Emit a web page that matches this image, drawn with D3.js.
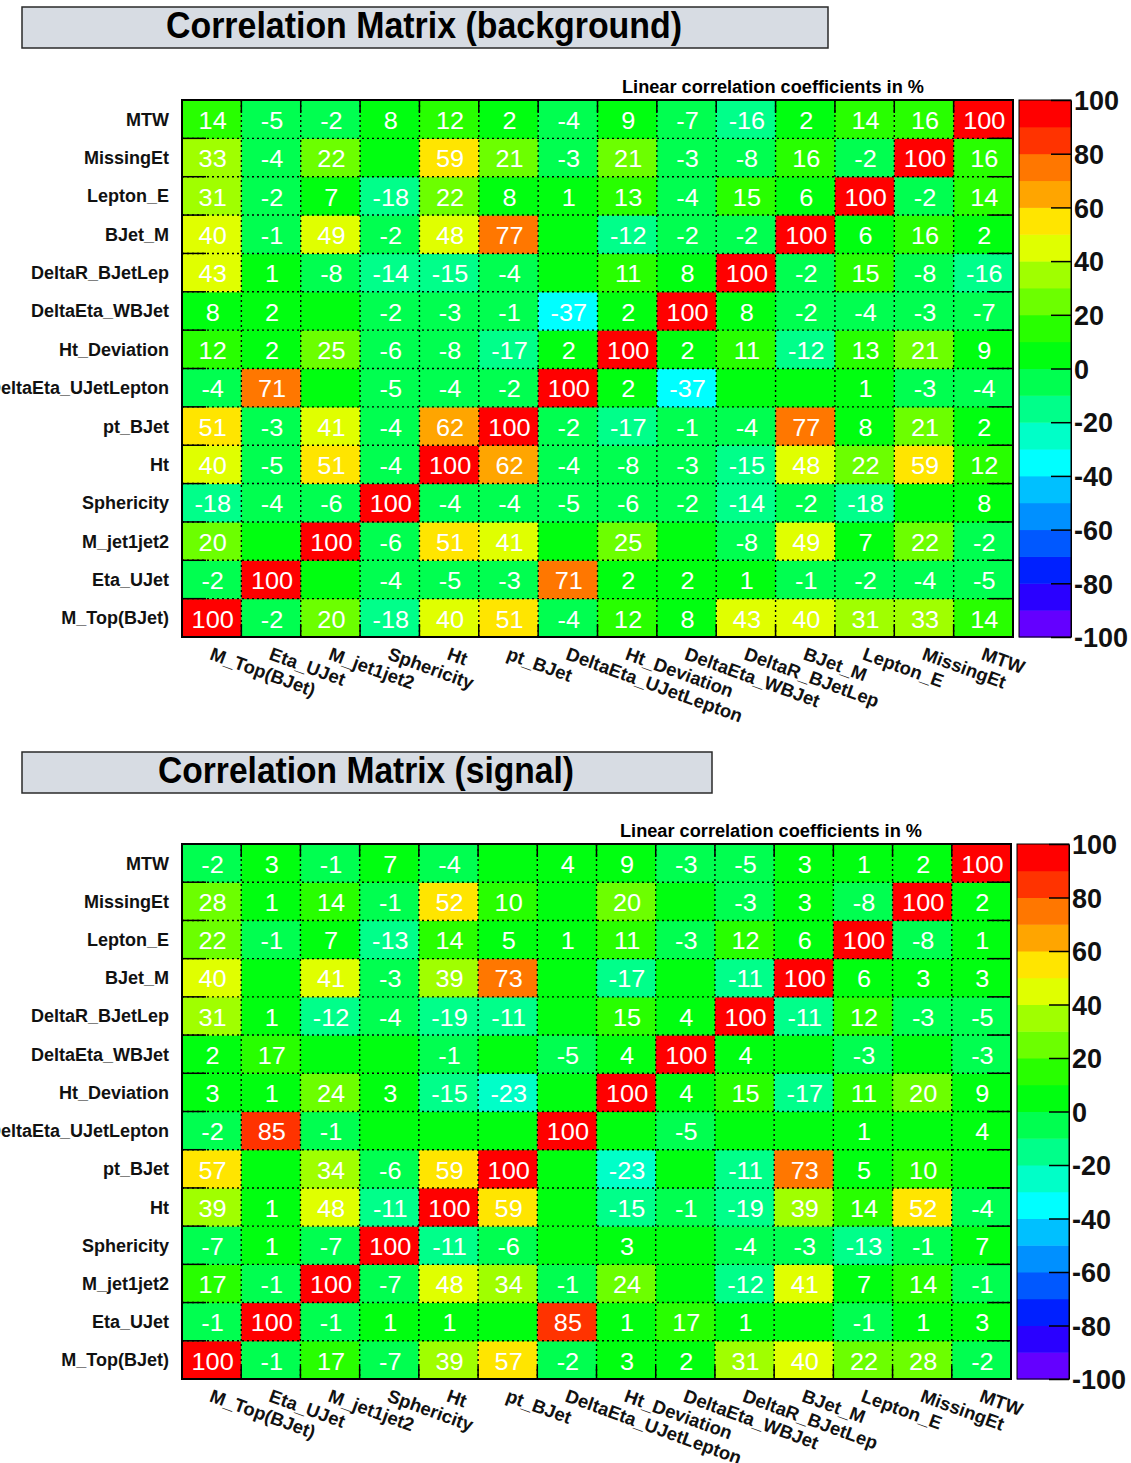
<!DOCTYPE html>
<html>
<head>
<meta charset="utf-8">
<script src="https://cdn.jsdelivr.net/npm/d3@7/dist/d3.min.js"></script>
<style>
  html, body { margin: 0; padding: 0; background: #fff; }
  svg { display: block; }
  text { font-family: "Liberation Sans", Arial, Helvetica, sans-serif; }
</style>
</head>
<body>
<div id="chart"></div>
<script>
// ---------------- DATA ----------------
const variables = ["M_Top(BJet)", "Eta_UJet", "M_jet1jet2", "Sphericity", "Ht", "pt_BJet",
  "DeltaEta_UJetLepton", "Ht_Deviation", "DeltaEta_WBJet", "DeltaR_BJetLep", "BJet_M",
  "Lepton_E", "MissingEt", "MTW"];

// rows in variable order (row 0 = M_Top(BJet), bottom row of the picture); 0 cells are not labelled
const backgroundMatrix = [
  [100, -2, 20, -18, 40, 51, -4, 12, 8, 43, 40, 31, 33, 14],
  [-2, 100, 0, -4, -5, -3, 71, 2, 2, 1, -1, -2, -4, -5],
  [20, 0, 100, -6, 51, 41, 0, 25, 0, -8, 49, 7, 22, -2],
  [-18, -4, -6, 100, -4, -4, -5, -6, -2, -14, -2, -18, 0, 8],
  [40, -5, 51, -4, 100, 62, -4, -8, -3, -15, 48, 22, 59, 12],
  [51, -3, 41, -4, 62, 100, -2, -17, -1, -4, 77, 8, 21, 2],
  [-4, 71, 0, -5, -4, -2, 100, 2, -37, 0, 0, 1, -3, -4],
  [12, 2, 25, -6, -8, -17, 2, 100, 2, 11, -12, 13, 21, 9],
  [8, 2, 0, -2, -3, -1, -37, 2, 100, 8, -2, -4, -3, -7],
  [43, 1, -8, -14, -15, -4, 0, 11, 8, 100, -2, 15, -8, -16],
  [40, -1, 49, -2, 48, 77, 0, -12, -2, -2, 100, 6, 16, 2],
  [31, -2, 7, -18, 22, 8, 1, 13, -4, 15, 6, 100, -2, 14],
  [33, -4, 22, 0, 59, 21, -3, 21, -3, -8, 16, -2, 100, 16],
  [14, -5, -2, 8, 12, 2, -4, 9, -7, -16, 2, 14, 16, 100]
];

const signalMatrix = [
  [100, -1, 17, -7, 39, 57, -2, 3, 2, 31, 40, 22, 28, -2],
  [-1, 100, -1, 1, 1, 0, 85, 1, 17, 1, 0, -1, 1, 3],
  [17, -1, 100, -7, 48, 34, -1, 24, 0, -12, 41, 7, 14, -1],
  [-7, 1, -7, 100, -11, -6, 0, 3, 0, -4, -3, -13, -1, 7],
  [39, 1, 48, -11, 100, 59, 0, -15, -1, -19, 39, 14, 52, -4],
  [57, 0, 34, -6, 59, 100, 0, -23, 0, -11, 73, 5, 10, 0],
  [-2, 85, -1, 0, 0, 0, 100, 0, -5, 0, 0, 1, 0, 4],
  [3, 1, 24, 3, -15, -23, 0, 100, 4, 15, -17, 11, 20, 9],
  [2, 17, 0, 0, -1, 0, -5, 4, 100, 4, 0, -3, 0, -3],
  [31, 1, -12, -4, -19, -11, 0, 15, 4, 100, -11, 12, -3, -5],
  [40, 0, 41, -3, 39, 73, 0, -17, 0, -11, 100, 6, 3, 3],
  [22, -1, 7, -13, 14, 5, 1, 11, -3, 12, 6, 100, -8, 1],
  [28, 1, 14, -1, 52, 10, 0, 20, 0, -3, 3, -8, 100, 2],
  [-2, 3, -1, 7, -4, 0, 4, 9, -3, -5, 3, 1, 2, 100]
];

const colorbarTicks = [-100, -80, -60, -40, -20, 0, 20, 40, 60, 80, 100];
const contourLevels = [-90, -80, -70, -60, -50, -40, -30, -20, -10, 0, 10, 20, 30, 40, 50, 60, 70, 80, 90];
const subtitleText = "Linear correlation coefficients in %";

// ---------------- STYLE ----------------
const paletteColors = [
  "#6400ff", "#2a00ff", "#0020ff", "#0058ff", "#0090ff", "#00c0ff", "#00ffff", "#00ffc8",
  "#00ff8a", "#00ff50", "#00ff10", "#28ff00", "#6cff00", "#a0ff00", "#e0ff00", "#ffe500",
  "#ffa500", "#ff7700", "#ff3300", "#ff0000"
];
const color = d3.scaleThreshold().domain(contourLevels).range(paletteColors);

const W = 1131, H = 1463;
const svg = d3.select("#chart").append("svg").attr("width", W).attr("height", H);
svg.append("rect").attr("width", W).attr("height", H).attr("fill", "#fff");

const panels = [
  {
    title: "Correlation Matrix (background)", matrix: backgroundMatrix,
    box: {x: 22, y: 7, w: 806, h: 41}, titleX: 424, titleY: 38, titleLen: 516,
    subX: 622, subY: 93,
    frame: {x0: 182, x1: 1013, y0: 100, y1: 637},
    cbar: {x0: 1019, x1: 1071}
  },
  {
    title: "Correlation Matrix (signal)", matrix: signalMatrix,
    box: {x: 22, y: 752, w: 690, h: 41}, titleX: 366, titleY: 783, titleLen: 416,
    subX: 620, subY: 837,
    frame: {x0: 182, x1: 1011, y0: 844, y1: 1379},
    cbar: {x0: 1017, x1: 1069}
  }
];

panels.forEach(p => drawPanel(p));

function drawPanel(p) {
  const g = svg.append("g");
  const f = p.frame;

  // title box
  g.append("rect").attr("x", p.box.x).attr("y", p.box.y).attr("width", p.box.w).attr("height", p.box.h)
    .attr("fill", "#d7dce3").attr("stroke", "#2a2a2a").attr("stroke-width", 1.5);
  g.append("text").attr("x", p.titleX).attr("y", p.titleY).attr("text-anchor", "middle")
    .attr("font-size", 36).attr("font-weight", "bold").attr("fill", "#000")
    .attr("textLength", p.titleLen).attr("lengthAdjust", "spacingAndGlyphs")
    .text(p.title);

  // subtitle
  g.append("text").attr("x", p.subX).attr("y", p.subY).attr("font-size", 17.5)
    .attr("font-weight", "bold").attr("fill", "#000")
    .attr("textLength", 302).attr("lengthAdjust", "spacingAndGlyphs").text(subtitleText);

  const x = d3.scaleBand().domain(variables).range([f.x0, f.x1]).padding(0);
  const y = d3.scaleBand().domain(variables).range([f.y1, f.y0]).padding(0);

  const cells = [];
  p.matrix.forEach((row, i) => row.forEach((v, j) => cells.push({row: variables[i], col: variables[j], v})));

  g.append("g").selectAll("rect").data(cells).join("rect")
    .attr("x", d => x(d.col)).attr("y", d => y(d.row))
    .attr("width", x.bandwidth() + 0.5).attr("height", y.bandwidth() + 0.5)
    .attr("fill", d => color(d.v));

  // dotted grid at bin edges
  const grid = g.append("g").attr("stroke", "#000").attr("stroke-width", 1.4).attr("stroke-dasharray", "2,3");
  variables.slice(1).forEach(v => {
    grid.append("line").attr("x1", x(v)).attr("x2", x(v)).attr("y1", f.y0).attr("y2", f.y1);
    grid.append("line").attr("y1", y(v) + y.bandwidth()).attr("y2", y(v) + y.bandwidth()).attr("x1", f.x0).attr("x2", f.x1);
  });

  // cell text
  g.append("g").selectAll("text").data(cells.filter(d => d.v !== 0)).join("text")
    .attr("transform", d => `translate(${x(d.col) + x.bandwidth() / 2 + 1},${y(d.row) + y.bandwidth() / 2 + 1}) scale(1.1,1)`)
    .attr("text-anchor", "middle").attr("dy", "0.38em")
    .attr("font-size", 23).attr("fill", "#fff").text(d => d.v);

  // edge ticks
  const ticks = g.append("g").attr("stroke", "#000").attr("stroke-width", 1.5);
  variables.slice(1).forEach(v => {
    const xx = x(v), yy = y(v) + y.bandwidth();
    ticks.append("line").attr("x1", xx).attr("x2", xx).attr("y1", f.y1).attr("y2", f.y1 - 13);
    ticks.append("line").attr("x1", xx).attr("x2", xx).attr("y1", f.y0).attr("y2", f.y0 + 13);
    ticks.append("line").attr("x1", f.x0).attr("x2", f.x0 + 24).attr("y1", yy).attr("y2", yy);
    ticks.append("line").attr("x1", f.x1 - 24).attr("x2", f.x1).attr("y1", yy).attr("y2", yy);
  });

  // frame
  g.append("rect").attr("x", f.x0).attr("y", f.y0).attr("width", f.x1 - f.x0).attr("height", f.y1 - f.y0)
    .attr("fill", "none").attr("stroke", "#000").attr("stroke-width", 2);

  // y axis labels
  const yAxis = g.append("g").attr("transform", `translate(${f.x0},0)`)
    .call(d3.axisLeft(y).tickSize(0).tickPadding(13));
  yAxis.select(".domain").remove();
  yAxis.selectAll("text").attr("font-size", 18).attr("font-weight", "bold").attr("fill", "#111")
    .attr("font-family", "Liberation Sans, Arial, sans-serif").attr("dy", "0.36em");

  // x axis labels (rotated)
  const xAxis = g.append("g").attr("transform", `translate(0,${f.y1})`)
    .call(d3.axisBottom(x).tickSize(0));
  xAxis.select(".domain").remove();
  xAxis.selectAll("text").attr("x", 0).attr("y", 0).attr("dy", 0)
    .attr("text-anchor", "start").attr("transform", "translate(-3,22) rotate(20)")
    .attr("font-size", 18.5).attr("font-weight", "bold").attr("fill", "#111")
    .attr("font-family", "Liberation Sans, Arial, sans-serif");

  // colour bar
  const c = p.cbar;
  const cz = d3.scaleLinear().domain([-100, 100]).range([f.y1, f.y0]);
  const bands = paletteColors.map((col, i) => ({lo: -100 + i * 10, hi: -90 + i * 10, col}));
  g.append("g").selectAll("rect").data(bands).join("rect")
    .attr("x", c.x0).attr("width", c.x1 - c.x0)
    .attr("y", d => cz(d.hi)).attr("height", d => cz(d.lo) - cz(d.hi) + 0.5)
    .attr("fill", d => d.col);
  g.append("rect").attr("x", c.x0).attr("y", f.y0).attr("width", c.x1 - c.x0).attr("height", f.y1 - f.y0)
    .attr("fill", "none").attr("stroke", "#000").attr("stroke-width", 1);
  const cAxis = g.append("g").attr("transform", `translate(${c.x1},0)`)
    .call(d3.axisRight(cz).tickValues(colorbarTicks).tickSizeInner(-20).tickSizeOuter(0).tickPadding(3)
      .tickFormat(d => String(d)));
  cAxis.select(".domain").attr("stroke", "#000").attr("stroke-width", 1);
  cAxis.selectAll("line").attr("stroke", "#000").attr("stroke-width", 1.5);
  cAxis.selectAll("text").attr("font-size", 27).attr("font-weight", "bold").attr("fill", "#111")
    .attr("font-family", "Liberation Sans, Arial, sans-serif").attr("dy", "0.36em");
}
</script>
</body>
</html>
